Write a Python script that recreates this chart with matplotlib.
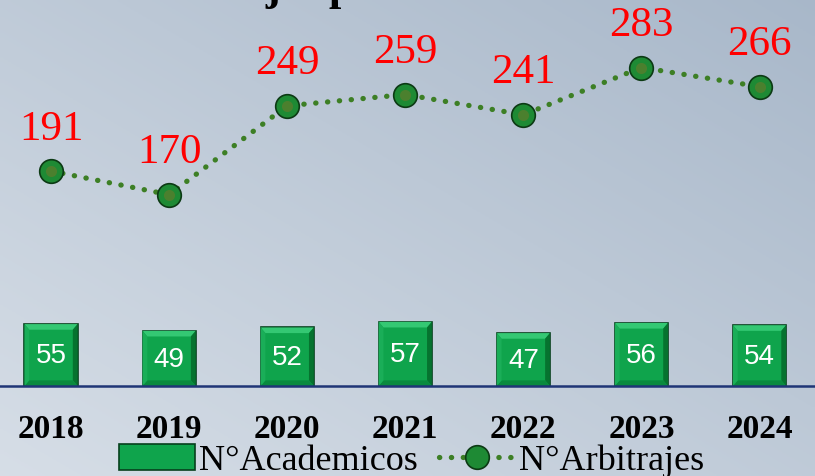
import numpy as np
import matplotlib.pyplot as plt
from matplotlib.patches import Polygon

years = ['2018', '2019', '2020', '2021', '2022', '2023', '2024']
academicos = [55, 49, 52, 57, 47, 56, 54]
arbitrajes = [191, 170, 249, 259, 241, 283, 266]

fig = plt.figure(figsize=(8.15, 4.76), dpi=100)

# diagonal background gradient
bg = fig.add_axes([0, 0, 1, 1], zorder=0)
gx, gy = np.meshgrid(np.linspace(0, 1, 200), np.linspace(0, 1, 200))
t = (gx + (1 - gy)) / 2
c0 = np.array([0.84, 0.87, 0.905])
c1 = np.array([0.66, 0.72, 0.79])
img = c0[None, None, :] * (1 - t[..., None]) + c1[None, None, :] * t[..., None]
bg.imshow(img, aspect='auto', extent=[0, 1, 0, 1], origin='upper')
bg.axis('off')

ax = fig.add_axes([0, 0, 1, 1], zorder=1)
ax.patch.set_alpha(0)
x = np.arange(len(years))
ax.set_xlim(-0.432, 6.47)
ax.set_ylim(-80, 343)
ax.axis('off')

# bars with a bevel look
bars = ax.bar(x, academicos, width=0.45, color='#0fa44c', edgecolor='#06401c',
              linewidth=1.2, zorder=3, label='N°Academicos')
for b in bars:
    x0, w, h = b.get_x(), b.get_width(), b.get_height()
    dx, dy = w * 0.09, 5
    ax.add_patch(Polygon([[x0, h], [x0 + w, h], [x0 + w - dx, h - dy], [x0 + dx, h - dy]],
                         closed=True, color='#34c873', zorder=4, lw=0))
    ax.add_patch(Polygon([[x0 + w, h], [x0 + w, 0], [x0 + w - dx, dy], [x0 + w - dx, h - dy]],
                         closed=True, color='#06732f', zorder=4, lw=0))
    ax.add_patch(Polygon([[x0, 0], [x0 + w, 0], [x0 + w - dx, dy], [x0 + dx, dy]],
                         closed=True, color='#0a8a3e', zorder=4, lw=0))
    ax.add_patch(Polygon([[x0, h], [x0, 0], [x0 + dx, dy], [x0 + dx, h - dy]],
                         closed=True, color='#1aae58', zorder=4, lw=0))
    ax.text(b.get_x() + w / 2, h / 2 - 1, f'{h:.0f}', ha='center', va='center',
            color='white', fontsize=20, family='Liberation Sans', zorder=6)

ax.axhline(0, color='#1f3576', lw=1.8, zorder=5)

# line series
ax.plot(x, arbitrajes, linestyle=(0, (0.05, 2.2)), dash_capstyle='round', lw=3.8,
        color='#3d7f25', marker='o', markersize=17, markerfacecolor='#1e8a34',
        markeredgecolor='#0c3a14', markeredgewidth=1.2, zorder=7, label='N°Arbitrajes')
ax.plot(x, arbitrajes, linestyle='none', marker='o', markersize=8,
        markerfacecolor='#6a7a2a', markeredgewidth=0, alpha=0.6, zorder=8)
for xi, v in zip(x, arbitrajes):
    ax.text(xi, v + 20, str(v), ha='center', va='bottom', color='#ff0000',
            fontsize=31, family='Liberation Serif', zorder=9)

for xi, yr in zip(x, years):
    ax.text(xi, -39, yr, ha='center', va='center', fontsize=24, fontweight='bold',
            family='Liberation Serif', color='black')

# title sits almost entirely above the visible area
ax.text(0.147, 1.0, 'Arbitrajes por año', transform=ax.transAxes,
        ha='left', va='baseline', fontsize=32, fontweight='bold',
        family='Liberation Serif', color='black')

h1, l1 = ax.get_legend_handles_labels()
order = [l1.index('N°Academicos'), l1.index('N°Arbitrajes')]
ax.legend([h1[i] for i in order], [l1[i] for i in order],
          loc='center', bbox_to_anchor=(0.505, 0.032), ncol=2, frameon=False,
          prop={'family': 'Liberation Serif', 'size': 26}, handlelength=2.1,
          handletextpad=0.1, columnspacing=0.6, borderpad=0)

fig.savefig('out.png', dpi=100)
